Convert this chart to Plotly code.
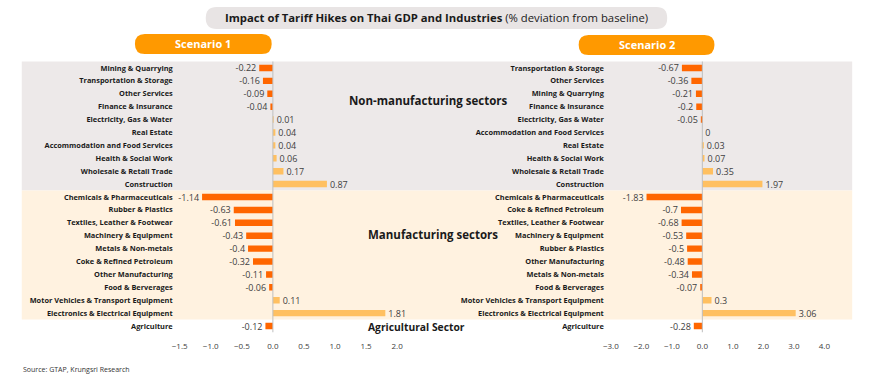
import plotly.graph_objects as go

W, H = 870, 386

cats1 = ["Mining & Quarrying", "Transportation & Storage", "Other Services", "Finance & Insurance",
         "Electricity, Gas & Water", "Real Estate", "Accommodation and Food Services",
         "Health & Social Work", "Wholesale & Retail Trade", "Construction",
         "Chemicals & Pharmaceuticals", "Rubber & Plastics", "Textiles, Leather & Footwear",
         "Machinery & Equipment", "Metals & Non-metals", "Coke & Refined Petroleum",
         "Other Manufacturing", "Food & Berverages", "Motor Vehicles & Transport Equipment",
         "Electronics & Electrical Equipment", "Agriculture"]
vals1 = [-0.22, -0.16, -0.09, -0.04, 0.01, 0.04, 0.04, 0.06, 0.17, 0.87,
         -1.14, -0.63, -0.61, -0.43, -0.4, -0.32, -0.11, -0.06, 0.11, 1.81, -0.12]

cats2 = ["Transportation & Storage", "Other Services", "Mining & Quarrying", "Finance & Insurance",
         "Electricity, Gas & Water", "Accommodation and Food Services", "Real Estate",
         "Health & Social Work", "Wholesale & Retail Trade", "Construction",
         "Chemicals & Pharmaceuticals", "Coke & Refined Petroleum", "Textiles, Leather & Footwear",
         "Machinery & Equipment", "Rubber & Plastics", "Other Manufacturing",
         "Metals & Non-metals", "Food & Berverages", "Motor Vehicles & Transport Equipment",
         "Electronics & Electrical Equipment", "Agriculture"]
vals2 = [-0.67, -0.36, -0.21, -0.2, -0.05, 0, 0.03, 0.07, 0.35, 1.97,
         -1.83, -0.7, -0.68, -0.53, -0.5, -0.48, -0.34, -0.07, 0.3, 3.06, -0.28]

ticks1 = [-1.5, -1.0, -0.5, 0.0, 0.5, 1.0, 1.5, 2.0]
ticks2 = [-3.0, -2.0, -1.0, 0.0, 1.0, 2.0, 3.0, 4.0]

NEG = "#FF6600"
POS = "#FFC061"
FONT = "Open Sans, sans-serif"
TXT = "#404040"


def fmt(v):
    return f"{v:g}"


def px(x):
    return x / W


def py(y):
    return 1 - y / H


def rrect(x0, y0, x1, y1, r):
    rx, ry = r / W, r / H
    X0, X1, Y0, Y1 = px(x0), px(x1), py(y0), py(y1)
    return (f"M {X0+rx},{Y0} L {X1-rx},{Y0} Q {X1},{Y0} {X1},{Y0-ry} "
            f"L {X1},{Y1+ry} Q {X1},{Y1} {X1-rx},{Y1} L {X0+rx},{Y1} "
            f"Q {X0},{Y1} {X0},{Y1+ry} L {X0},{Y0-ry} Q {X0},{Y0} {X0+rx},{Y0} Z")


fig = go.Figure()
for cats, vals, xa, ya in [(cats1, vals1, "x", "y"), (cats2, vals2, "x2", "y2")]:
    fig.add_trace(go.Bar(
        x=vals, y=cats, orientation="h", xaxis=xa, yaxis=ya,
        marker=dict(color=[NEG if v < 0 else POS for v in vals], line=dict(width=0)),
        width=0.5, text=[fmt(v) for v in vals], textposition="outside",
        constraintext="none",
        textfont=dict(family=FONT, size=9, color=TXT), cliponaxis=False,
        showlegend=False, hoverinfo="x+y"))

ytop, ybot = 61.5, 332.5
ydom = [py(ybot), py(ytop)]
common_y = dict(type="category", range=[20.5, -0.5], autorange=False, showgrid=False, zeroline=False,
                showline=False, ticks="", ticklen=0, ticklabelstandoff=6,
                tickfont=dict(family=FONT, size=7.4, color="#1a1a1a", weight="bold"),
                domain=ydom)
common_x = dict(showgrid=False, zeroline=False, showline=False, ticks="", ticklen=0, tickformat=".1f",
                tickfont=dict(family=FONT, size=8, color=TXT), ticklabelstandoff=7)

fig.update_layout(
    width=W, height=H, autosize=False,
    margin=dict(l=0, r=0, t=0, b=0),
    paper_bgcolor="white", plot_bgcolor="rgba(0,0,0,0)",
    xaxis=dict(common_x, domain=[px(174.5), px(395.5)], range=[-1.5, 2.0], tickvals=ticks1, anchor="y"),
    yaxis=dict(common_y, categoryorder="array", categoryarray=cats1, anchor="x"),
    xaxis2=dict(common_x, domain=[px(612.7), px(829.7)], range=[-3.0, 4.0], tickvals=ticks2, anchor="y2"),
    yaxis2=dict(common_y, categoryorder="array", categoryarray=cats2, anchor="x2"),
)

shapes = [
    dict(type="rect", xref="paper", yref="y", x0=px(14), x1=px(858), y0=-0.85, y1=9.5,
         fillcolor="#EDE9E9", line=dict(width=0), layer="below"),
    dict(type="rect", xref="paper", yref="y", x0=px(14), x1=px(858), y0=9.5, y1=19.5,
         fillcolor="#FFF2E0", line=dict(width=0), layer="below"),
    dict(type="line", xref="x", yref="y", x0=0, x1=0, y0=-0.85, y1=20.5,
         line=dict(color="#BFBFBF", width=1)),
    dict(type="line", xref="x2", yref="y2", x0=0, x1=0, y0=-0.85, y1=20.5,
         line=dict(color="#BFBFBF", width=1)),
    dict(type="path", xref="paper", yref="paper", path=rrect(201, 7, 670, 29, 11),
         fillcolor="#E8E4E4", line=dict(width=0), layer="below"),
    dict(type="path", xref="paper", yref="paper", path=rrect(129, 34, 268, 54, 10),
         fillcolor="#FF9900", line=dict(width=0), layer="below"),
    dict(type="path", xref="paper", yref="paper", path=rrect(580, 35, 718, 55, 10),
         fillcolor="#FF9900", line=dict(width=0), layer="below"),
]
fig.update_layout(shapes=shapes)

ann = [
    dict(text="<b>Impact of Tariff Hikes on Thai GDP and Industries</b> (% deviation from baseline)",
         x=px(436), y=py(18), font=dict(family=FONT, size=11.3, color="#1a1a1a")),
    dict(text="<b>Scenario 1</b>", x=px(198), y=py(44), font=dict(family=FONT, size=11, color="white")),
    dict(text="<b>Scenario 2</b>", x=px(649), y=py(45), font=dict(family=FONT, size=11, color="white")),
    dict(text="<b>Non-manufacturing sectors</b>", x=px(427), y=py(100), font=dict(family=FONT, size=11.5, color="#1a1a1a")),
    dict(text="<b>Manufacturing sectors</b>", x=px(432), y=py(234), font=dict(family=FONT, size=11.5, color="#1a1a1a")),
    dict(text="<b>Agricultural Sector</b>", x=px(415), y=py(327), font=dict(family=FONT, size=10.3, color="#1a1a1a")),
    dict(text="Source: GTAP, Krungsri Research", x=px(13), y=py(369), xanchor="left",
         font=dict(family=FONT, size=7, color="#333333")),
]
for a in ann:
    a.setdefault("xanchor", "center")
    a.update(xref="paper", yref="paper", yanchor="middle", showarrow=False)
fig.update_layout(annotations=ann)

fig.write_html("out.html", config={"displayModeBar": False},
               post_script="document.body.style.margin='0';document.body.style.overflow='hidden';")
